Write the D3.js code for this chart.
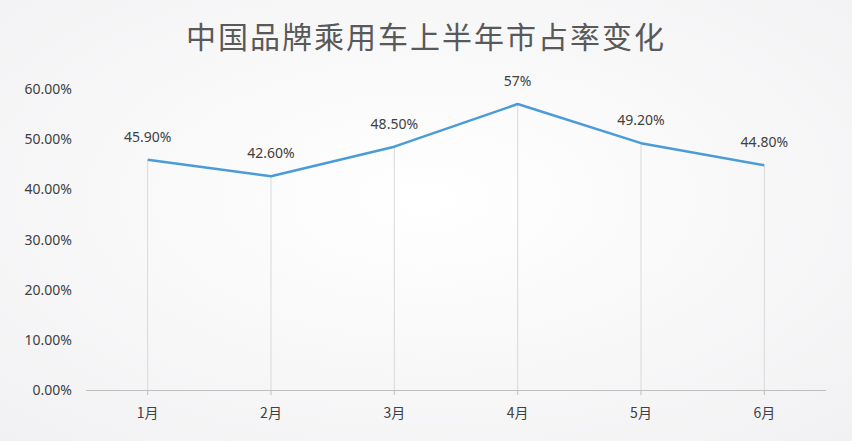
<!DOCTYPE html>
<html><head><meta charset="utf-8">
<script src="https://cdn.jsdelivr.net/npm/d3@7"></script>
<style>body{margin:0;background:#fff}svg{display:block}</style>
</head><body><svg id="c" width="852" height="441"></svg>
<script>
const categories=["1月","2月","3月","4月","5月","6月"];
const values=[45.9,42.6,48.5,57,49.2,44.8];
const labels=["45.90%","42.60%","48.50%","57%","49.20%","44.80%"];
const yTicks=[0,10,20,30,40,50,60];
const title="中国品牌乘用车上半年市占率变化";
const svg=d3.select("#c");
const defs=svg.append("defs");
const g0=defs.append("radialGradient").attr("id","bg").attr("cx","50%").attr("cy","45%").attr("r","75%");
g0.append("stop").attr("offset","0%").attr("stop-color","#ffffff");
g0.append("stop").attr("offset","100%").attr("stop-color","#f1f1f3");
svg.append("rect").attr("width",852).attr("height",441).attr("fill","url(#bg)");
const x=d3.scaleBand().domain(categories).range([86,826]);
const y=d3.scaleLinear().domain([0,60]).range([390,89]);
svg.append("text").attr("x",426).attr("y",48).attr("text-anchor","middle").attr("font-family","Noto Sans CJK SC").attr("font-size",30).attr("fill","#595959").attr("letter-spacing",2).text(title);
svg.selectAll(".yt").data(yTicks).join("text").attr("x",72).attr("y",d=>y(d)+5).attr("text-anchor","end").attr("font-family","Noto Sans, sans-serif").attr("font-size",14).attr("fill","#404040").text(d=>d.toFixed(2)+"%");
const cx=d=>x(d)+x.bandwidth()/2;
svg.selectAll(".dl").data(categories).join("line").attr("x1",cx).attr("x2",cx).attr("y1",(d,i)=>y(values[i])).attr("y2",390).attr("stroke","#d9d9d9").attr("stroke-width",1);
svg.append("line").attr("x1",86).attr("x2",826).attr("y1",390.5).attr("y2",390.5).attr("stroke","#bfbfbf");
svg.selectAll(".xt").data(categories).join("line").attr("x1",cx).attr("x2",cx).attr("y1",390).attr("y2",395).attr("stroke","#bfbfbf");
svg.selectAll(".xl").data(categories).join("text").attr("x",cx).attr("y",418).attr("text-anchor","middle").attr("font-family","Noto Sans CJK SC").attr("font-size",14).attr("fill","#404040").text(d=>d);
svg.append("path").datum(values).attr("d",d3.line().x((d,i)=>cx(categories[i])).y(d=>y(d))).attr("fill","none").attr("stroke","#4a9bd6").attr("stroke-width",2.5).attr("stroke-linejoin","round");
svg.selectAll(".vl").data(values).join("text").attr("x",(d,i)=>cx(categories[i])).attr("y",d=>y(d)-18).attr("text-anchor","middle").attr("font-family","Noto Sans, sans-serif").attr("font-size",14).attr("fill","#404040").text((d,i)=>labels[i]);
</script></body></html>
